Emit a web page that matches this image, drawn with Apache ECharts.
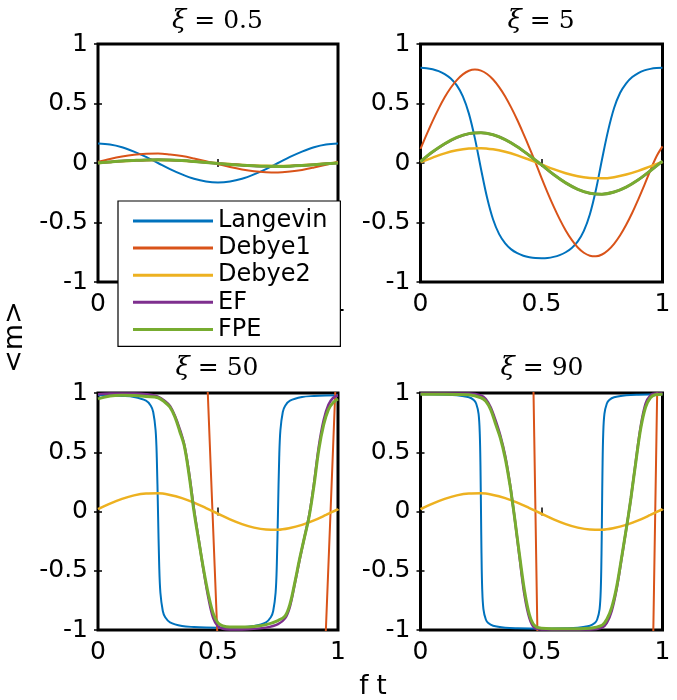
<!DOCTYPE html>
<html>
<head>
<meta charset="utf-8">
<script src="https://cdn.jsdelivr.net/npm/echarts@6/dist/echarts.min.js"></script>
<style>html,body{margin:0;padding:0;background:#fff;}#chart{width:677px;height:700px;}</style>
</head>
<body>
<div id="chart"></div>
<script>
// ---------- data ----------
const seriesNames = ['Langevin', 'Debye1', 'Debye2', 'EF', 'FPE'];
const panelTitles = ['0.5', '5', '50', '90'];
const xTickLabels = ['0', '0.5', '1'];
const yTickLabels = ['-1', '-0.5', '0', '0.5', '1'];

const X21 = [0,0.05,0.1,0.15,0.2,0.25,0.3,0.35,0.4,0.45,0.5,0.55,0.6,0.65,0.7,0.75,0.8,0.85,0.9,0.95,1];
const X41 = [0,0.025,0.05,0.075,0.1,0.125,0.15,0.175,0.2,0.225,0.25,0.275,0.3,0.325,0.35,0.375,0.4,0.425,0.45,0.475,0.5,
             0.525,0.55,0.575,0.6,0.625,0.65,0.675,0.7,0.725,0.75,0.775,0.8,0.825,0.85,0.875,0.9,0.925,0.95,0.975,1];

// xi = 0.5 (on X21)
const xi05_Langevin = [0.164,0.156,0.133,0.096,0.051,0,-0.051,-0.096,-0.133,-0.156,-0.164,-0.156,-0.133,-0.096,-0.051,0,0.051,0.096,0.133,0.156,0.164];
const xi05_Debye1 = [0.010,0.034,0.054,0.069,0.077,0.079,0.071,0.058,0.038,0.015,-0.010,-0.034,-0.054,-0.069,-0.077,-0.079,-0.071,-0.058,-0.038,-0.015,0.010];
const xi05_Debye2 = [0,0.008,0.015,0.020,0.024,0.025,0.023,0.019,0.013,0.006,-0.002,-0.009,-0.016,-0.021,-0.024,-0.025,-0.023,-0.018,-0.012,-0.005,0.002];
const xi05_EF = [0,0.009,0.017,0.023,0.026,0.027,0.025,0.020,0.013,0.005,-0.004,-0.012,-0.019,-0.025,-0.028,-0.029,-0.027,-0.022,-0.015,-0.007,0.001];
const xi05_FPE = [0,0.009,0.017,0.022,0.026,0.027,0.025,0.020,0.013,0.005,-0.004,-0.012,-0.019,-0.024,-0.028,-0.029,-0.027,-0.022,-0.015,-0.007,0.001];

// xi = 5
const xi5_Langevin = [0.800,0.797,0.788,0.772,0.747,0.710,0.652,0.560,0.415,0.205,-0.050,-0.290,-0.475,-0.598,-0.675,-0.726,-0.758,-0.779,-0.792,-0.799,-0.800,
                      -0.798,-0.789,-0.774,-0.750,-0.714,-0.658,-0.570,-0.430,-0.225,0.030,0.270,0.462,0.590,0.670,0.722,0.756,0.778,0.791,0.798,0.800]; // on X41
const xi5_Debye1 = [0.118,0.238,0.352,0.457,0.552,0.632,0.697,0.745,0.775,0.785,0.776,0.748,0.702,0.638,0.559,0.465,0.361,0.247,0.128,0.005,-0.126,
                    -0.249,-0.365,-0.472,-0.567,-0.646,-0.710,-0.754,-0.779,-0.784,-0.769,-0.733,-0.679,-0.607,-0.519,-0.418,-0.305,-0.186,-0.061,0.055,0.140]; // on X41
const xi5_Debye2 = [0.006,0.045,0.081,0.107,0.122,0.125,0.115,0.094,0.064,0.027,-0.012,-0.052,-0.086,-0.112,-0.126,-0.129,-0.119,-0.097,-0.066,-0.028,0.008];
const xi5_EF = [0.012,0.092,0.161,0.214,0.246,0.254,0.237,0.197,0.137,0.063,-0.016,-0.097,-0.167,-0.221,-0.254,-0.262,-0.244,-0.203,-0.141,-0.065,0.014];
const xi5_FPE = [0.012,0.094,0.162,0.215,0.247,0.254,0.237,0.197,0.137,0.063,-0.016,-0.097,-0.167,-0.221,-0.254,-0.262,-0.244,-0.203,-0.141,-0.065,0.016];

// xi = 50 ([x, y] pairs)
const xi50_Langevin = [[0,0.980],[0.05,0.979],[0.1,0.975],[0.15,0.966],[0.2,0.935],[0.22,0.893],[0.23,0.840],[0.24,0.686],[0.245,0.454],[0.25,0],
  [0.255,-0.454],[0.26,-0.686],[0.27,-0.840],[0.28,-0.893],[0.3,-0.935],[0.35,-0.966],[0.4,-0.975],[0.45,-0.979],[0.5,-0.980],
  [0.55,-0.979],[0.6,-0.975],[0.65,-0.966],[0.7,-0.935],[0.72,-0.893],[0.73,-0.840],[0.74,-0.686],[0.745,-0.454],[0.75,0],
  [0.755,0.454],[0.76,0.686],[0.77,0.840],[0.78,0.893],[0.8,0.935],[0.85,0.966],[0.9,0.975],[0.95,0.979],[1,0.980]];
const xi50_Debye1 = [[0,1.6],[0.05,3.9],[0.1,5.9],[0.15,7.4],[0.2,8.1],[0.25,8.1],[0.3,7.3],[0.35,5.9],[0.4,3.8],[0.44,1.9],[0.46,0.87],[0.477,0],
  [0.495,-0.92],[0.51,-1.7],[0.55,-3.6],[0.6,-5.7],[0.65,-7.2],[0.7,-8.1],[0.75,-8.1],[0.8,-7.4],[0.85,-6.1],[0.9,-4.4],[0.93,-2.0],[0.95,-0.97],
  [0.969,0],[0.99,1.08],[1,1.6]];
const xi50_Debye2 = [0.019,0.066,0.106,0.136,0.152,0.154,0.140,0.113,0.075,0.029,-0.019,-0.066,-0.106,-0.136,-0.152,-0.154,-0.140,-0.113,-0.075,-0.029,0.019]; // on X21
const xi50_EF = [[0,0.99],[0.05,0.995],[0.1,0.995],[0.15,0.995],[0.2,0.99],[0.25,0.97],[0.28,0.93],[0.3,0.89],[0.32,0.81],[0.34,0.70],[0.36,0.56],
  [0.38,0.32],[0.40,0.02],[0.42,-0.24],[0.44,-0.50],[0.46,-0.73],[0.48,-0.90],[0.5,-0.97],[0.52,-0.99],[0.55,-0.995],[0.6,-0.995],[0.65,-0.99],
  [0.7,-0.98],[0.75,-0.95],[0.78,-0.90],[0.80,-0.80],[0.82,-0.61],[0.84,-0.41],[0.86,-0.22],[0.88,-0.03],[0.90,0.24],[0.92,0.55],[0.94,0.77],
  [0.96,0.90],[0.98,0.96],[1,0.98]];
const xi50_FPE = [[0,0.95],[0.05,0.975],[0.1,0.98],[0.15,0.978],[0.2,0.97],[0.25,0.96],[0.28,0.92],[0.3,0.88],[0.32,0.80],[0.34,0.68],[0.36,0.55],
  [0.38,0.30],[0.40,0.0],[0.42,-0.25],[0.44,-0.49],[0.46,-0.70],[0.48,-0.86],[0.5,-0.94],[0.52,-0.965],[0.55,-0.975],[0.6,-0.975],[0.65,-0.97],
  [0.7,-0.955],[0.75,-0.92],[0.78,-0.88],[0.80,-0.78],[0.82,-0.60],[0.84,-0.40],[0.86,-0.22],[0.88,-0.04],[0.90,0.22],[0.92,0.52],[0.94,0.73],
  [0.96,0.86],[0.98,0.92],[1,0.95]];

// xi = 90 ([x, y] pairs)
const xi90_Langevin = [[0,0.989],[0.1,0.986],[0.15,0.981],[0.2,0.964],[0.22,0.941],[0.23,0.911],[0.24,0.823],[0.245,0.654],[0.248,0.35],[0.25,0],
  [0.252,-0.35],[0.255,-0.654],[0.26,-0.823],[0.27,-0.911],[0.28,-0.941],[0.3,-0.964],[0.35,-0.981],[0.4,-0.986],[0.5,-0.989],
  [0.6,-0.986],[0.65,-0.981],[0.7,-0.964],[0.72,-0.941],[0.73,-0.911],[0.74,-0.823],[0.745,-0.654],[0.748,-0.35],[0.75,0],
  [0.752,0.35],[0.755,0.654],[0.76,0.823],[0.77,0.911],[0.78,0.941],[0.8,0.964],[0.85,0.981],[0.9,0.986],[1,0.989]];
const xi90_Debye1 = [[0,3.9],[0.05,9.6],[0.1,14.6],[0.2,19.8],[0.3,17.5],[0.4,9.1],[0.45,3.1],[0.465,1.26],[0.475,0],[0.485,-1.26],[0.5,-3.1],
  [0.55,-9.1],[0.6,-14.2],[0.7,-19.9],[0.8,-16.6],[0.9,-8.5],[0.95,-2.5],[0.96,-1.26],[0.97,0],[0.98,1.26],[1,3.8]];
const xi90_Debye2 = [0.019,0.066,0.106,0.136,0.152,0.154,0.140,0.113,0.075,0.029,-0.019,-0.066,-0.106,-0.136,-0.152,-0.154,-0.140,-0.113,-0.075,-0.029,0.019]; // on X21
const xi90_EF = [[0,0.995],[0.1,0.995],[0.2,0.995],[0.25,0.98],[0.27,0.95],[0.29,0.88],[0.31,0.77],[0.33,0.64],[0.35,0.47],[0.37,0.23],[0.38,0.08],
  [0.39,-0.07],[0.41,-0.40],[0.43,-0.71],[0.45,-0.90],[0.47,-0.98],[0.5,-0.995],[0.6,-0.995],[0.7,-0.995],[0.75,-0.98],[0.77,-0.94],[0.79,-0.84],
  [0.81,-0.66],[0.83,-0.41],[0.85,-0.15],[0.86,-0.02],[0.87,0.12],[0.89,0.43],[0.91,0.72],[0.93,0.91],[0.95,0.98],[0.97,0.995],[1,0.995]];
const xi90_FPE = [[0,0.99],[0.1,0.99],[0.2,0.985],[0.25,0.96],[0.27,0.93],[0.29,0.86],[0.31,0.74],[0.33,0.62],[0.35,0.45],[0.37,0.22],[0.38,0.08],
  [0.39,-0.07],[0.41,-0.38],[0.43,-0.67],[0.45,-0.87],[0.47,-0.96],[0.5,-0.985],[0.6,-0.99],[0.7,-0.985],[0.75,-0.96],[0.77,-0.91],[0.79,-0.81],
  [0.81,-0.64],[0.83,-0.40],[0.85,-0.15],[0.86,-0.02],[0.87,0.12],[0.89,0.42],[0.91,0.70],[0.93,0.88],[0.95,0.96],[0.97,0.985],[1,0.99]];

// ---------- build ----------
const pair = (xs, ys) => xs.map((x, i) => [x, ys[i]]);
const panels = [
  { Langevin: pair(X21, xi05_Langevin), Debye1: pair(X21, xi05_Debye1), Debye2: pair(X21, xi05_Debye2), EF: pair(X21, xi05_EF), FPE: pair(X21, xi05_FPE) },
  { Langevin: pair(X41, xi5_Langevin), Debye1: pair(X41, xi5_Debye1), Debye2: pair(X21, xi5_Debye2), EF: pair(X21, xi5_EF), FPE: pair(X21, xi5_FPE) },
  { Langevin: xi50_Langevin, Debye1: xi50_Debye1, Debye2: pair(X21, xi50_Debye2), EF: xi50_EF, FPE: xi50_FPE },
  { Langevin: xi90_Langevin, Debye1: xi90_Debye1, Debye2: pair(X21, xi90_Debye2), EF: xi90_EF, FPE: xi90_FPE }
];

const COLORS = { Langevin: '#0072BD', Debye1: '#D95319', Debye2: '#EDB120', EF: '#7E2F8E', FPE: '#77AC30' };
const WIDTHS = { Langevin: 2, Debye1: 2, Debye2: 2.5, EF: 2.5, FPE: 3 };
const SANS = 'DejaVu Sans';
const SERIF = 'DejaVu Serif';

const gridPos = [
  { left: 98, top: 44, width: 240, height: 238 },
  { left: 420.5, top: 44, width: 242, height: 238 },
  { left: 98, top: 393, width: 240, height: 237 },
  { left: 420.5, top: 393, width: 242, height: 237 }
];
const titleCenters = [[217.5, 9], [541, 9], [217, 356], [542, 356]];

const grids = gridPos.map(g => Object.assign({ show: true, borderColor: '#000', borderWidth: 3, backgroundColor: 'transparent' }, g));

const xAxes = [], yAxes = [];
const tick = { show: true, inside: true, length: 4, lineStyle: { color: '#000', width: 1.5 } };
for (let i = 0; i < 4; i++) {
  xAxes.push({ type: 'value', gridIndex: i, min: 0, max: 1, interval: 0.5, position: 'bottom',
    axisLine: { show: false }, axisTick: tick, splitLine: { show: false },
    axisLabel: { color: '#000', fontFamily: SANS, fontSize: 25, margin: 10,
      formatter: v => xTickLabels[Math.round(v / 0.5)] } });
  yAxes.push({ type: 'value', gridIndex: i, min: -1, max: 1, interval: 0.5, position: 'left',
    axisLine: { show: false }, axisTick: tick, splitLine: { show: false },
    axisLabel: { color: '#000', fontFamily: SANS, fontSize: 25, margin: 10,
      formatter: v => yTickLabels[Math.round((v + 1) / 0.5)] } });
}
for (let i = 0; i < 4; i++) {
  xAxes.push({ type: 'value', gridIndex: i, min: 0, max: 1, interval: 0.5, position: 'top',
    axisLine: { show: false }, axisTick: tick, splitLine: { show: false }, axisLabel: { show: false } });
  yAxes.push({ type: 'value', gridIndex: i, min: -1, max: 1, interval: 0.5, position: 'right',
    axisLine: { show: false }, axisTick: tick, splitLine: { show: false }, axisLabel: { show: false } });
}

const series = [];
panels.forEach((p, i) => {
  seriesNames.forEach(name => {
    series.push({
      type: 'line', name, xAxisIndex: i, yAxisIndex: i, data: p[name],
      symbol: 'none', showSymbol: false, smooth: 0.35, clip: true, animation: false,
      lineStyle: { color: COLORS[name], width: WIDTHS[name] },
      itemStyle: { color: COLORS[name] }
    });
  });
});

const titles = panelTitles.map((t, i) => ({
  text: '{i|ξ} = ' + t,
  left: titleCenters[i][0], top: titleCenters[i][1], textAlign: 'center', padding: 0,
  textStyle: { fontFamily: SERIF, fontSize: 25, fontWeight: 'normal', color: '#000', lineHeight: 25,
    rich: { i: { fontFamily: SERIF, fontStyle: 'italic', fontSize: 26, color: '#000', lineHeight: 25 } } }
}));

const option = {
  backgroundColor: '#fff',
  animation: false,
  title: titles,
  grid: grids,
  xAxis: xAxes,
  yAxis: yAxes,
  legend: {
    data: seriesNames, orient: 'vertical', left: 118, top: 201,
    padding: [8, 13, 5, 15], itemWidth: 80, itemHeight: 3, itemGap: 3.1, icon: 'rect',
    backgroundColor: '#fff', borderColor: '#000', borderWidth: 1.2, borderRadius: 0,
    selectedMode: false,
    textStyle: { fontFamily: SANS, fontSize: 24, color: '#000' }
  },
  graphic: [
    { type: 'text', x: 14.5, y: 337, rotation: Math.PI / 2,
      style: { text: '<m>', font: '27px "DejaVu Sans"', fill: '#000', align: 'center', verticalAlign: 'middle' } },
    { type: 'text', x: 373, y: 687,
      style: { text: 'f t', font: '26px "DejaVu Sans"', fill: '#000', align: 'center', verticalAlign: 'middle' } }
  ],
  series
};

const chart = echarts.init(document.getElementById('chart'), null, { renderer: 'canvas' });
chart.setOption(option);
</script>
</body>
</html>
